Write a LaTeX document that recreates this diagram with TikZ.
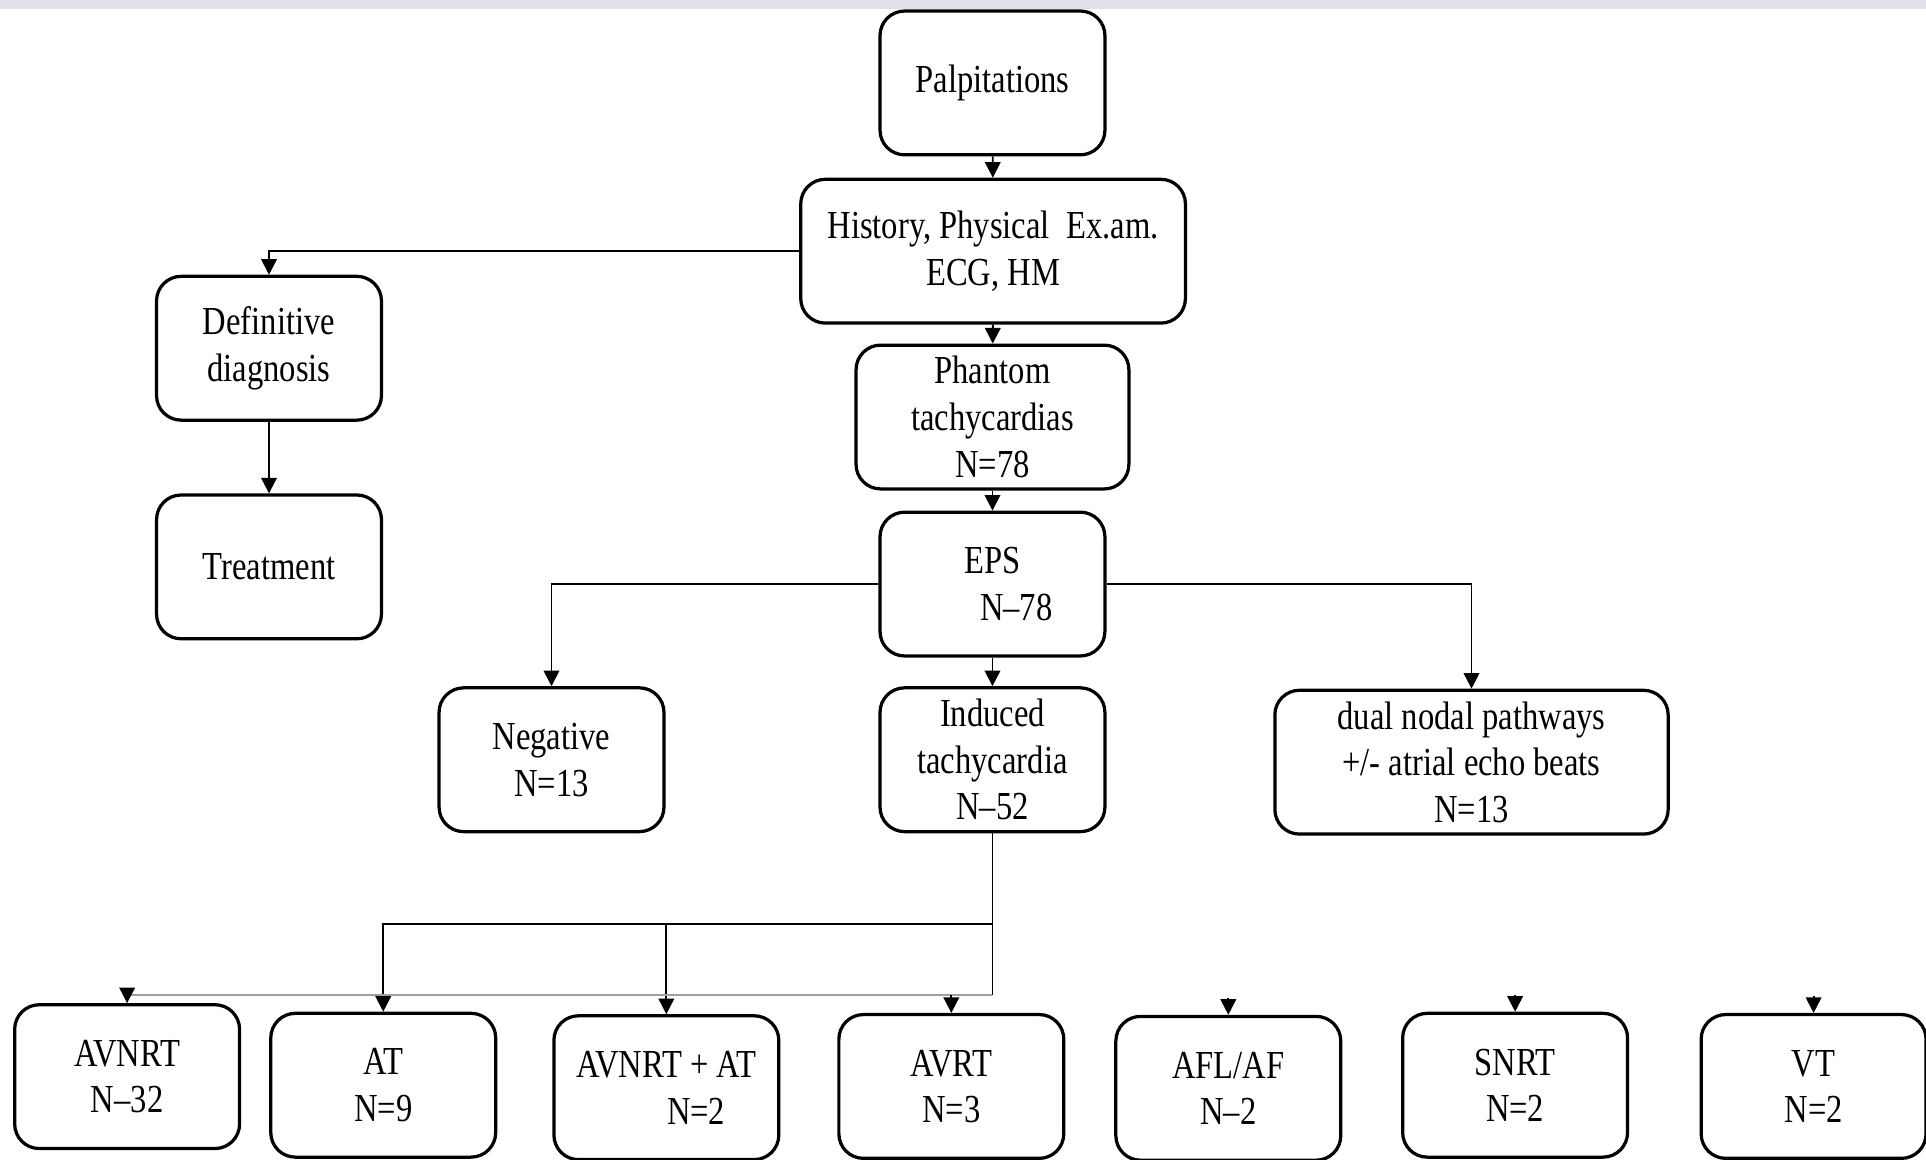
\documentclass[tikz,border=0pt]{standalone}
\usepackage{fontspec}
\setmainfont{Liberation Serif}[FakeStretch=0.82]
\usetikzlibrary{arrows.meta}

\definecolor{bandlilac}{RGB}{227,223,236}
\definecolor{faintline}{RGB}{160,160,160}

\tikzset{%
  every box/.style={
    draw,
    rounded corners=0.2cm,
    line width=0.75pt,
    align=center,
    inner sep=0pt,
    minimum width=1.83cm,
    minimum height=1.17cm,
    font=\fontsize{9.2}{10.8}\selectfont
  },
  box hist/.style={minimum width=3.13cm},
  box phan/.style={minimum width=2.22cm},
  box dual/.style={minimum width=3.20cm},
  link/.style={
    -{Triangle[length=3.6pt,width=3.6pt]},
    line width=0.45pt
  },
}

\begin{document}
\begin{tikzpicture}[x=0.01cm,y=-0.01cm]
\useasboundingbox (0,0) rectangle (1568,944);
\fill [bandlilac] (0,0) rectangle (1568,7);

\node [every box] (palp) at (808,67.5) {Palpitations};
\node [every box, box hist] (hist) at (808.5,204.5) {History, Physical\ \ Ex.am.\\ECG, HM};
\node [every box] (defn) at (219,283.5) {Definitive\\diagnosis};
\node [every box] (treat) at (219,461.5) {Treatment};
\node [every box, box phan] (phan) at (808,339.5) {Phantom\\tachycardias\\N=78};
\node [every box] (eps) at (808,475.5) {EPS\\\hspace{1.2em}N–78};
\node [every box] (neg) at (449,618.5) {Negative\\N=13};
\node [every box] (ind) at (808,618.5) {Induced\\tachycardia\\N–52};
\node [every box, box dual] (dual) at (1198,620.5) {dual nodal pathways\\+/- atrial echo beats\\N=13};

\foreach \n/\x/\y/\t in {avnrt/103.5/876.5/{AVNRT\\N–32},
                         at/312/883.5/{AT\\N=9},
                         avat/542.5/885.5/{AVNRT + AT\\\hspace{1.5em}N=2},
                         avrt/774.5/884.5/{AVRT\\N=3},
                         afl/1000/886/{AFL/AF\\N–2},
                         snrt/1233.5/883.5/{SNRT\\N=2},
                         vt/1476.5/884.5/{VT\\N=2}}
  \node [every box] (\n) at (\x,\y) {\t};

\draw [link] (palp) -- (hist);
\draw [link] (hist.west) -| (defn.north);
\draw [link] (hist) -- (phan);
\draw [link] (defn) -- (treat);
\draw [link] (phan) -- (eps);
\draw [link] (eps.west) -| (neg.north);
\draw [link] (eps.east) -| (dual.north);
\draw [link] (eps) -- (ind);

% split below induced tachycardia
\coordinate (split1) at (808,752);
\coordinate (split2) at (808,810);
\draw [line width=0.45pt] (ind.south) -- (split2);
\draw [link] (split1) -| (at.north);
\draw [link] (avat.north |- split1) -- (avat.north);
\draw [faintline, line width=0.45pt] (split2) -- (avnrt.north |- split2);
\draw [link] (avrt.north |- split2) -- (avrt.north);
\draw [link] (avnrt.north |- split2) -- (avnrt.north);

\foreach \n in {afl,snrt,vt}
  \draw [link] (\n.north) ++(0,-14) coordinate (\n-in) -- (\n.north);

\end{tikzpicture}
\end{document}
